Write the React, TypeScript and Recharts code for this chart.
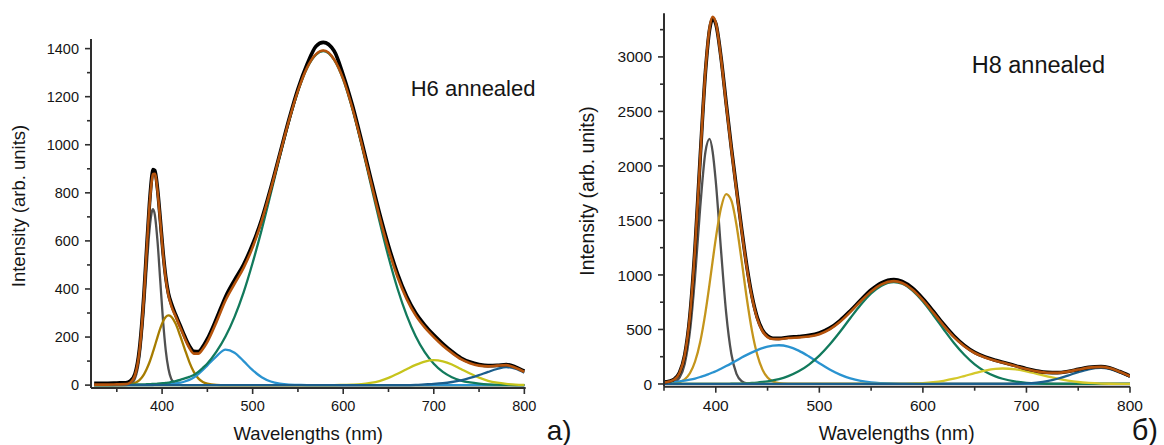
import { LineChart, Line, XAxis, YAxis } from 'recharts';

// H6 annealed (left panel) – wavelength grid and fitted components
const L_WL = [325, 330, 340, 350, 360, 365, 370, 375, 380, 383, 386, 389, 390, 392, 395, 398, 401, 404, 407, 410, 415, 420, 425, 430, 435, 440, 445, 450, 460, 470, 480, 490, 500, 510, 520, 530, 540, 550, 560, 570, 578, 590, 600, 610, 620, 630, 640, 650, 660, 670, 680, 690, 700, 710, 720, 730, 740, 750, 760, 770, 780, 790, 800];
const L_DATA = [8, 8, 8, 9, 10, 17, 46, 150, 382, 572, 752, 878, 897, 893, 815, 690, 556, 451, 382, 342, 293, 248, 203, 164, 141, 140, 160, 192, 276, 367, 437, 502, 586, 690, 820, 962, 1104, 1232, 1334, 1410, 1426, 1390, 1290, 1166, 1020, 866, 716, 580, 463, 370, 300, 250, 208, 172, 140, 113, 96, 86, 81, 82, 86, 76, 58];
const L_FIT = [2, 2, 2, 3, 4, 11, 40, 141, 372, 562, 742, 860, 878, 879, 806, 680, 548, 443, 374, 332, 285, 240, 195, 155, 131, 131, 150, 180, 262, 352, 421, 488, 573, 682, 814, 958, 1099, 1224, 1320, 1377, 1392, 1355, 1274, 1154, 1009, 854, 702, 565, 450, 359, 290, 240, 200, 164, 134, 108, 91, 81, 78, 81, 83, 72, 55];
const L_GRAY = [0, 0, 0, 0, 0, 4, 27, 115, 322, 489, 642, 726, 732, 708, 596, 433, 271, 146, 68, 27, 4, 1, 0, 0, 0, 0, 0, 0, 0, 0, 0, 0, 0, 0, 0, 0, 0, 0, 0, 0, 0, 0, 0, 0, 0, 0, 0, 0, 0, 0, 0, 0, 0, 0, 0, 0, 0, 0, 0, 0, 0, 0, 0];
const L_GOLD = [0, 0, 0, 0, 1, 3, 9, 21, 45, 67, 94, 127, 139, 163, 201, 236, 265, 283, 290, 285, 255, 205, 150, 97, 55, 28, 13, 6, 1, 0, 0, 0, 0, 0, 0, 0, 0, 0, 0, 0, 0, 0, 0, 0, 0, 0, 0, 0, 0, 0, 0, 0, 0, 0, 0, 0, 0, 0, 0, 0, 0, 0, 0];
const L_BLUE = [0, 0, 0, 0, 0, 0, 0, 0, 0, 0, 0, 0, 0, 1, 1, 2, 2, 3, 4, 5, 7, 10, 15, 22, 32, 46, 63, 82, 120, 148, 135, 100, 62, 33, 15, 6, 2, 1, 0, 0, 0, 0, 0, 0, 0, 0, 0, 0, 0, 0, 0, 0, 0, 0, 0, 0, 0, 0, 0, 0, 0, 0, 0];
const L_GREEN = [0, 0, 0, 1, 1, 2, 2, 3, 3, 4, 4, 5, 5, 5, 6, 7, 8, 9, 10, 13, 17, 22, 28, 34, 42, 55, 72, 90, 139, 202, 284, 386, 509, 647, 797, 950, 1095, 1221, 1318, 1375, 1390, 1353, 1271, 1150, 1003, 843, 683, 533, 401, 291, 203, 137, 89, 55, 33, 19, 11, 6, 3, 2, 1, 0, 0];
const L_YELLOW = [0, 0, 0, 0, 0, 0, 0, 0, 0, 0, 0, 0, 0, 0, 0, 0, 0, 0, 0, 0, 0, 0, 0, 0, 0, 0, 0, 0, 0, 0, 0, 0, 0, 0, 0, 0, 0, 0, 0, 0, 0, 0, 1, 2, 4, 9, 17, 30, 47, 66, 84, 98, 104, 99, 86, 67, 48, 31, 18, 10, 5, 2, 1];
const L_NAVY = [0, 0, 0, 0, 0, 0, 0, 0, 0, 0, 0, 0, 0, 0, 0, 0, 0, 0, 0, 0, 0, 0, 0, 0, 0, 0, 0, 0, 0, 0, 0, 0, 0, 0, 0, 0, 0, 0, 0, 0, 0, 0, 0, 0, 0, 0, 0, 0, 0, 0, 1, 3, 5, 8, 13, 20, 30, 42, 55, 67, 75, 68, 52];

// H8 annealed (right panel)
const R_WL = [350, 355, 360, 365, 370, 375, 380, 385, 390, 394, 397, 400, 405, 410, 415, 420, 425, 430, 435, 440, 445, 450, 455, 461, 470, 480, 490, 500, 510, 520, 530, 540, 550, 560, 572, 580, 590, 600, 610, 620, 630, 640, 650, 660, 670, 677, 690, 700, 710, 720, 730, 740, 750, 760, 772, 780, 790, 800];
const R_DATA = [18, 26, 45, 105, 265, 625, 1255, 2085, 2860, 3250, 3350, 3305, 3000, 2580, 2170, 1790, 1420, 1080, 805, 612, 497, 440, 420, 418, 428, 436, 446, 468, 512, 582, 672, 770, 862, 928, 958, 940, 878, 782, 668, 548, 440, 354, 290, 248, 218, 200, 166, 140, 119, 106, 104, 115, 134, 152, 160, 148, 114, 73];
const R_FIT = [14, 23, 41, 101, 261, 619, 1246, 2080, 2867, 3265, 3367, 3314, 2992, 2565, 2157, 1774, 1405, 1065, 790, 599, 486, 430, 412, 411, 421, 427, 435, 456, 500, 570, 661, 759, 849, 914, 943, 926, 865, 769, 654, 536, 429, 346, 284, 243, 214, 196, 162, 137, 116, 103, 102, 113, 132, 150, 157, 146, 112, 71];
const R_GRAY = [0, 3, 14, 57, 184, 477, 985, 1623, 2128, 2248, 2128, 1858, 1235, 654, 277, 93, 25, 5, 1, 0, 0, 0, 0, 0, 0, 0, 0, 0, 0, 0, 0, 0, 0, 0, 0, 0, 0, 0, 0, 0, 0, 0, 0, 0, 0, 0, 0, 0, 0, 0, 0, 0, 0, 0, 0, 0, 0, 0];
const R_GOLD = [0, 2, 5, 16, 42, 98, 206, 388, 655, 918, 1129, 1333, 1611, 1741, 1684, 1458, 1129, 782, 485, 270, 134, 59, 24, 7, 1, 0, 0, 0, 0, 0, 0, 0, 0, 0, 0, 0, 0, 0, 0, 0, 0, 0, 0, 0, 0, 0, 0, 0, 0, 0, 0, 0, 0, 0, 0, 0, 0, 0];
const R_BLUE = [9, 13, 17, 23, 30, 39, 50, 64, 79, 94, 105, 117, 140, 164, 189, 215, 242, 267, 290, 311, 329, 342, 351, 355, 343, 306, 252, 191, 133, 86, 51, 28, 14, 7, 2, 1, 0, 0, 0, 0, 0, 0, 0, 0, 0, 0, 0, 0, 0, 0, 0, 0, 0, 0, 0, 0, 0, 0];
const R_GREEN = [0, 0, 0, 0, 0, 0, 0, 0, 0, 0, 0, 1, 1, 1, 2, 3, 4, 6, 9, 13, 18, 24, 32, 44, 72, 116, 178, 260, 362, 479, 605, 726, 830, 902, 935, 919, 856, 756, 633, 502, 376, 268, 180, 115, 70, 48, 22, 11, 5, 2, 1, 0, 0, 0, 0, 0, 0, 0];
const R_YELLOW = [0, 0, 0, 0, 0, 0, 0, 0, 0, 0, 0, 0, 0, 0, 0, 0, 0, 0, 0, 0, 0, 0, 0, 0, 0, 0, 0, 0, 0, 0, 0, 0, 0, 0, 1, 1, 4, 8, 16, 29, 48, 73, 99, 123, 139, 142, 133, 116, 93, 70, 48, 31, 18, 10, 4, 2, 1, 0];
const R_NAVY = [0, 0, 0, 0, 0, 0, 0, 0, 0, 0, 0, 0, 0, 0, 0, 0, 0, 0, 0, 0, 0, 0, 0, 0, 0, 0, 0, 0, 0, 0, 0, 0, 0, 0, 0, 0, 0, 0, 0, 0, 0, 0, 0, 0, 0, 1, 2, 5, 13, 26, 48, 77, 109, 135, 148, 139, 106, 66];

// ticks
const L_XTICKS = [350, 400, 450, 500, 550, 600, 650, 700, 750, 800];
const L_XMAJOR = [400, 500, 600, 700, 800];
const L_YTICKS = [0, 100, 200, 300, 400, 500, 600, 700, 800, 900, 1000, 1100, 1200, 1300, 1400];
const L_YMAJOR = [0, 200, 400, 600, 800, 1000, 1200, 1400];
const R_XTICKS = [350, 400, 450, 500, 550, 600, 650, 700, 750, 800];
const R_XMAJOR = [400, 500, 600, 700, 800];
const R_YTICKS = [0, 250, 500, 750, 1000, 1250, 1500, 1750, 2000, 2250, 2500, 2750, 3000, 3250];
const R_YMAJOR = [0, 500, 1000, 1500, 2000, 2500, 3000];

const FONT = '"Liberation Sans", Arial, sans-serif';
const AXIS = '#2e2e2e';
const INK = '#151515';

const toRows = (wl: number[], cols: Record<string, number[]>) =>
  wl.map((w, i) => {
    const row: Record<string, number> = { w };
    Object.keys(cols).forEach((k) => (row[k] = cols[k][i]));
    return row;
  });

const leftRows = toRows(L_WL, { data: L_DATA, fit: L_FIT, gray: L_GRAY, gold: L_GOLD, blue: L_BLUE, green: L_GREEN, yellow: L_YELLOW, navy: L_NAVY });
const rightRows = toRows(R_WL, { data: R_DATA, fit: R_FIT, gray: R_GRAY, gold: R_GOLD, blue: R_BLUE, green: R_GREEN, yellow: R_YELLOW, navy: R_NAVY });

const xTick = (major: number[], fs: number, gap: number) => (props: any) => {
  const { x, y, payload } = props;
  const big = major.includes(payload.value);
  return (
    <g>
      <line x1={x} y1={y} x2={x} y2={y + (big ? 6 : 4)} stroke={AXIS} strokeWidth={1.6} />
      {big && (
        <text x={x} y={y + gap} dy="0.71em" textAnchor="middle" fontSize={fs} fill={INK} fontFamily={FONT}>
          {payload.value}
        </text>
      )}
    </g>
  );
};

const yTick = (major: number[], fs: number, gap: number) => (props: any) => {
  const { x, y, payload } = props;
  const big = major.includes(payload.value);
  return (
    <g>
      <line x1={x} y1={y} x2={x - (big ? 6 : 4)} y2={y} stroke={AXIS} strokeWidth={1.6} />
      {big && (
        <text x={x - gap} y={y} dy="0.36em" textAnchor="end" fontSize={fs} fill={INK} fontFamily={FONT}>
          {payload.value}
        </text>
      )}
    </g>
  );
};

type PanelProps = {
  rows: Record<string, number>[];
  width: number;
  yAxisW: number;
  top: number;
  right: number;
  xAxisH: number;
  xDomain: [number, number];
  yDomain: [number, number];
  xTicks: number[];
  xMajor: number[];
  yTicks: number[];
  yMajor: number[];
  fs: number;
  gold: string;
  yellow: string;
};

function Panel(p: PanelProps) {
  const comp = (key: string, color: string) => (
    <Line key={key} type="monotone" dataKey={key} stroke={color} strokeWidth={2.3} dot={false} isAnimationActive={false} />
  );
  return (
    <LineChart width={p.width} height={445} data={p.rows} margin={{ top: p.top, right: p.right, left: 0, bottom: 0 }}>
      <XAxis
        dataKey="w"
        type="number"
        domain={p.xDomain}
        allowDataOverflow
        ticks={p.xTicks}
        interval={0}
        height={p.xAxisH}
        tickSize={0}
        tickMargin={0}
        tickLine={false}
        axisLine={{ stroke: AXIS, strokeWidth: 2 }}
        tick={xTick(p.xMajor, p.fs, 13)}
      />
      <YAxis
        type="number"
        domain={p.yDomain}
        allowDataOverflow
        ticks={p.yTicks}
        interval={0}
        width={p.yAxisW}
        tickSize={0}
        tickMargin={0}
        tickLine={false}
        axisLine={{ stroke: AXIS, strokeWidth: 2 }}
        tick={yTick(p.yMajor, p.fs, 12)}
      />
      {comp('gray', '#505050')}
      {comp('gold', p.gold)}
      {comp('blue', '#2a93d0')}
      {comp('green', '#127a5c')}
      {comp('yellow', p.yellow)}
      {comp('navy', '#1b5e8c')}
      <Line type="monotone" dataKey="data" stroke="#000" strokeWidth={3.6} dot={false} isAnimationActive={false} />
      <Line type="monotone" dataKey="fit" stroke="#b5530c" strokeWidth={2.6} dot={false} isAnimationActive={false} />
    </LineChart>
  );
}

export default function App() {
  return (
    <div style={{ position: 'absolute', left: 0, top: 0, width: 1164, height: 445, background: '#fff', fontFamily: FONT }}>
      <div style={{ position: 'absolute', left: 0, top: 0 }}>
        <Panel
          rows={leftRows}
          width={560}
          yAxisW={91}
          top={39}
          right={34.3}
          xAxisH={57}
          xDomain={[321.5, 801.5]}
          yDomain={[-12, 1440]}
          xTicks={L_XTICKS}
          xMajor={L_XMAJOR}
          yTicks={L_YTICKS}
          yMajor={L_YMAJOR}
          fs={14.5}
          gold="#a67c00"
          yellow="#c6c41c"
        />
      </div>
      <div style={{ position: 'absolute', left: 580, top: 0 }}>
        <Panel
          rows={rightRows}
          width={584}
          yAxisW={84}
          top={13.3}
          right={34}
          xAxisH={58.3}
          xDomain={[350, 800]}
          yDomain={[-25, 3400]}
          xTicks={R_XTICKS}
          xMajor={R_XMAJOR}
          yTicks={R_YTICKS}
          yMajor={R_YMAJOR}
          fs={15.5}
          gold="#c4951c"
          yellow="#d4c82a"
        />
      </div>
      <svg width={1164} height={445} style={{ position: 'absolute', left: 0, top: 0, pointerEvents: 'none' }} fontFamily={FONT} fill={INK}>
        <text transform="translate(20.5,206) rotate(-90)" dy="0.26em" textAnchor="middle" fontSize={18.5}>Intensity (arb. units)</text>
        <text x={308.3} y={440} textAnchor="middle" fontSize={18.5}>Wavelengths (nm)</text>
        <text x={410.7} y={96} fontSize={22}>H6 annealed</text>
        <text x={546.7} y={440} fontSize={28}>a)</text>
        <text transform="translate(589,191) rotate(-90)" dy="0.26em" textAnchor="middle" fontSize={19.3}>Intensity (arb. units)</text>
        <text x={896.7} y={440} textAnchor="middle" fontSize={19.3}>Wavelengths (nm)</text>
        <text x={971.7} y={72.7} fontSize={23.5}>H8 annealed</text>
        <text x={1131.7} y={440} fontSize={29}>б)</text>
      </svg>
    </div>
  );
}
